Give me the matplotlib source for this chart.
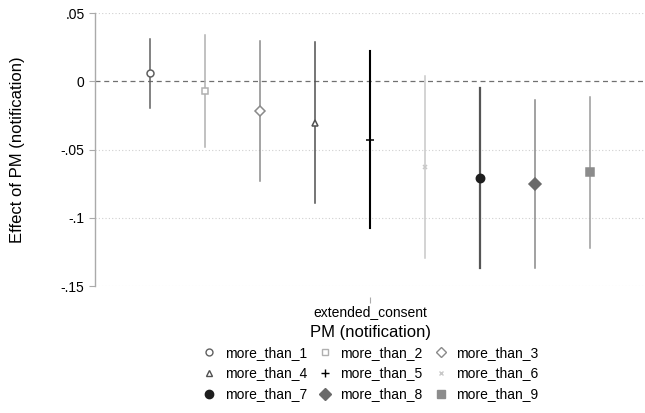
import matplotlib.pyplot as plt
from matplotlib.lines import Line2D

plt.rcParams['font.family'] = ['Liberation Sans', 'DejaVu Sans']

labels = ['more_than_1', 'more_than_2', 'more_than_3', 'more_than_4', 'more_than_5',
          'more_than_6', 'more_than_7', 'more_than_8', 'more_than_9']
est = [0.0061, -0.0071, -0.0220, -0.0305, -0.0427, -0.0627, -0.0712, -0.0751, -0.0668]
lo = [-0.0193, -0.0485, -0.0732, -0.0895, -0.1078, -0.1293, -0.1366, -0.1366, -0.1225]
hi = [0.0310, 0.0342, 0.0293, 0.0285, 0.0222, 0.0037, -0.0053, -0.0134, -0.0112]
offsets = [-0.4, -0.3, -0.2, -0.1, 0.0, 0.1, 0.2, 0.3, 0.4]
yticks = [0.05, 0, -0.05, -0.1, -0.15]
yticklabels = ['.05', '0', '-.05', '-.1', '-.15']

markers = ['o', 's', 'D', '^', '+', 'x', 'o', 'D', 's']
filled = [False, False, False, False, True, True, True, True, True]
line_col = ['#606060', '#b0b0b0', '#8a8a8a', '#505050', '#000000',
            '#c8c8c8', '#555555', '#888888', '#9a9a9a']
mark_col = ['#606060', '#b0b0b0', '#8a8a8a', '#505050', '#000000',
            '#c8c8c8', '#1e1e1e', '#6a6a6a', '#8c8c8c']
lw = [1.1, 1.1, 1.1, 1.1, 1.5, 1.1, 1.6, 1.1, 1.1]
msize = [5, 5, 5.5, 5, 6, 3.5, 6, 6.5, 6]

fig = plt.figure(figsize=(6.45, 4.13), dpi=100)
ax = fig.add_axes([0.1473, 0.3075, 0.8527, 0.661])

handles = []
for i in range(9):
    x = 1 + offsets[i]
    ax.plot([x, x], [lo[i], hi[i]], color=line_col[i], lw=lw[i], zorder=2)
    fc = mark_col[i] if filled[i] else 'white'
    ax.plot(x, est[i], marker=markers[i], ms=msize[i], mfc=fc, mec=mark_col[i],
            mew=1.1, linestyle='none', zorder=3)
    handles.append(Line2D([], [], marker=markers[i], ms=msize[i], mfc=fc,
                          mec=mark_col[i], mew=1.0, linestyle='none'))

ax.axhline(0, color='#707070', lw=0.9, ls=(0, (4, 3)), zorder=1)
for yv in [0.05, -0.05, -0.1, -0.15]:
    ax.axhline(yv, color='#d0d0d0', lw=0.8, ls=(0, (1, 2)), zorder=0)

ax.set_xlim(0.5, 1.5)
ax.set_ylim(-0.15, 0.05)
ax.set_yticks(yticks)
ax.set_yticklabels(yticklabels, fontsize=10)
ax.set_xticks([1])
ax.set_xticklabels(['extended_consent'], fontsize=10)
ax.tick_params(axis='y', colors='#aaaaaa', labelcolor='black', length=4, width=0.8)
ax.tick_params(axis='x', colors='#aaaaaa', labelcolor='black', length=4, width=0.8, pad=2)
ax.spines['bottom'].set_position(('outward', 8))
ax.spines['bottom'].set_visible(False)
ax.spines['top'].set_visible(False)
ax.spines['right'].set_visible(False)
ax.spines['left'].set_color('#aaaaaa')
ax.spines['left'].set_linewidth(1.0)

ax.set_ylabel('Effect of PM (notification)', fontsize=12, labelpad=26)
ax.set_xlabel('PM (notification)', fontsize=12, labelpad=4)

# legend filled row-wise like Stata
order = [0, 3, 6, 1, 4, 7, 2, 5, 8]
fig.legend([handles[k] for k in order], [labels[k] for k in order],
           ncol=3, loc='upper center', bbox_to_anchor=(0.574, 0.17),
           frameon=False, fontsize=10, handlelength=1.0, handletextpad=0.6,
           columnspacing=0.8, labelspacing=0.5, borderaxespad=0, borderpad=0.2)

fig.savefig('out.png', dpi=100)
